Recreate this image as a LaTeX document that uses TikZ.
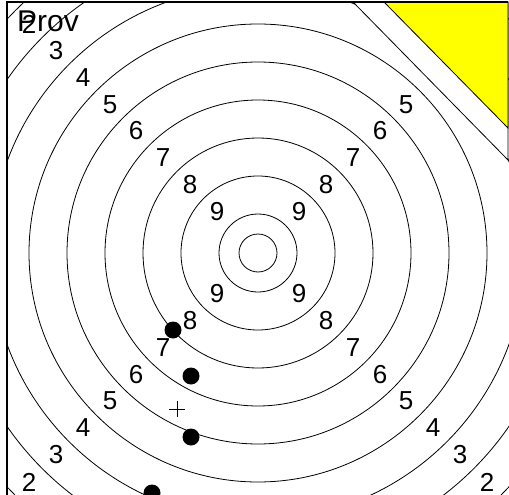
\documentclass[tikz,border=0pt]{standalone}
\usepackage{fontspec}
\setmainfont{Liberation Sans}
\usetikzlibrary{positioning}
\definecolor{cornerfill}{HTML}{FFFF00}
\tikzset{
  ring/.style={line width=0.8pt},
  frameline/.style={line width=1.2pt},
  ringnum/.style={inner sep=0pt,font=\fontsize{26}{26}\selectfont},
  shot/.style={circle,fill=black,inner sep=0pt,minimum size=17pt},
}

\begin{document}
\begin{tikzpicture}[x=1pt,y=-1pt]
  \useasboundingbox (0,0) rectangle (509,495);
  \coordinate (c) at (258,253);
  \begin{scope}
    \clip (7,2) rectangle (509,495);
    \foreach \r in {19,39,77,115,...,343}{\draw[ring] (c) circle[radius=\r pt];}
  \end{scope}
  % cut corner
  \draw[ring,fill=white] (353,2) -- (508,160) -- (508,2) -- cycle;
  \draw[ring,fill=cornerfill] (384,2) -- (508,128) -- (508,2) -- cycle;
  \draw[frameline] (7,495) -- (7,2) -- (508,2);
  % ring numbers
  \foreach \n/\d in {9/41,8/68,7/95,6/122,5/148,4/175,3/202,2/229}{
    \node[ringnum] (nw\n) at (258-\d,253-\d) {\n};
    \node[ringnum] (sw\n) at (258-\d,253+\d) {\n};
    \node[ringnum] (se\n) at (258+\d,253+\d) {\n};
  }
  \foreach \n/\d in {9/41,8/68,7/95,6/122,5/148}{\node[ringnum] (ne\n) at (258+\d,253-\d) {\n};}
  \node[anchor=base west,inner sep=0pt,font=\fontsize{30}{30}\selectfont] (prov) at (17,32) {Prov};
  % shots
  \node[shot] (s1) at (173,330) {};
  \node[shot] (s2) at (191,376) {};
  \node[shot] (s3) at (191,437) {};
  \node[shot] (s4) at (152,493) {};
  \coordinate (aim) at (177,409);
  \draw[line width=0.6pt] ([xshift=-8pt]aim) -- ([xshift=8pt]aim) ([yshift=-8pt]aim) -- ([yshift=8pt]aim);
\end{tikzpicture}
\end{document}
